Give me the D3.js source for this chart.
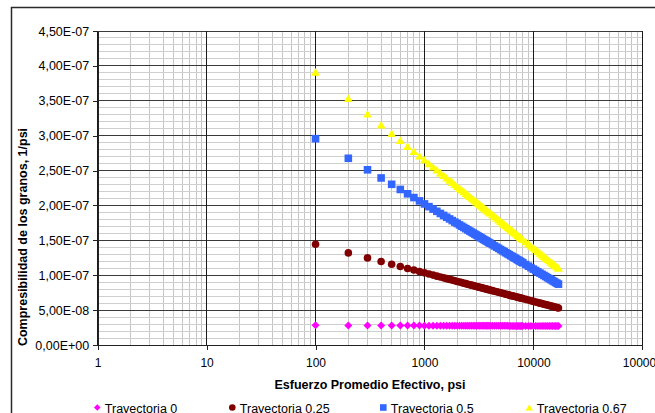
<!DOCTYPE html>
<html><head><meta charset="utf-8">
<script src="https://cdn.jsdelivr.net/npm/d3@7"></script>
<style>
body{margin:0;background:#fff}
svg{display:block}
text{font-family:"Liberation Sans",Arial,sans-serif;fill:#000}
</style></head>
<body><svg id="c" width="655" height="413"></svg>
<script>
// ---------- data ----------
const esfuerzo = [100,200,300,400,500,600,700,800,900,1000,1100,1200,1300,1400,1500,1600,1700,1800,1900,2000,
2100,2200,2300,2400,2500,2600,2700,2800,2900,3000,3100,3200,3300,3400,3500,3600,3700,3800,3900,4000,
4200,4400,4600,4800,5000,5200,5400,5600,5800,6000,6200,6400,6600,6800,7000,7200,7400,7600,7800,8000,
8500,9000,9500,10000,10500,11000,11500,12000,12500,13000,13500,14000,14500,15000,15500,16000,16500,17000];

const tray0 = [2.820e-8,2.806e-8,2.799e-8,2.793e-8,2.789e-8,2.785e-8,2.782e-8,2.779e-8,2.777e-8,2.775e-8,
2.773e-8,2.771e-8,2.770e-8,2.768e-8,2.767e-8,2.766e-8,2.765e-8,2.764e-8,2.762e-8,2.761e-8,
2.760e-8,2.760e-8,2.759e-8,2.758e-8,2.757e-8,2.756e-8,2.756e-8,2.755e-8,2.754e-8,2.754e-8,
2.753e-8,2.752e-8,2.752e-8,2.751e-8,2.751e-8,2.750e-8,2.749e-8,2.749e-8,2.748e-8,2.748e-8,
2.747e-8,2.746e-8,2.745e-8,2.744e-8,2.744e-8,2.743e-8,2.742e-8,2.741e-8,2.741e-8,2.740e-8,
2.739e-8,2.739e-8,2.738e-8,2.738e-8,2.737e-8,2.736e-8,2.736e-8,2.735e-8,2.735e-8,2.734e-8,
2.733e-8,2.732e-8,2.731e-8,2.730e-8,2.729e-8,2.728e-8,2.727e-8,2.726e-8,2.726e-8,2.725e-8,
2.724e-8,2.723e-8,2.723e-8,2.722e-8,2.721e-8,2.721e-8,2.720e-8,2.720e-8];

const tray025 = [1.443e-7,1.320e-7,1.248e-7,1.197e-7,1.157e-7,1.125e-7,1.097e-7,1.074e-7,1.053e-7,1.034e-7,
1.017e-7,1.002e-7,0.987e-7,0.974e-7,0.962e-7,0.951e-7,0.940e-7,0.930e-7,0.920e-7,0.911e-7,
0.902e-7,0.894e-7,0.886e-7,0.879e-7,0.871e-7,0.864e-7,0.858e-7,0.851e-7,0.845e-7,0.839e-7,
0.833e-7,0.827e-7,0.822e-7,0.817e-7,0.812e-7,0.807e-7,0.802e-7,0.797e-7,0.792e-7,0.788e-7,
0.779e-7,0.771e-7,0.763e-7,0.755e-7,0.748e-7,0.741e-7,0.734e-7,0.728e-7,0.722e-7,0.716e-7,
0.710e-7,0.704e-7,0.699e-7,0.694e-7,0.688e-7,0.683e-7,0.679e-7,0.674e-7,0.669e-7,0.665e-7,
0.654e-7,0.644e-7,0.634e-7,0.625e-7,0.616e-7,0.608e-7,0.600e-7,0.593e-7,0.585e-7,0.578e-7,
0.572e-7,0.565e-7,0.559e-7,0.553e-7,0.547e-7,0.542e-7,0.536e-7,0.531e-7];

const tray05 = [2.957e-7,2.676e-7,2.511e-7,2.394e-7,2.303e-7,2.229e-7,2.167e-7,2.113e-7,2.065e-7,2.022e-7,
1.983e-7,1.948e-7,1.916e-7,1.885e-7,1.857e-7,1.831e-7,1.807e-7,1.783e-7,1.761e-7,1.741e-7,
1.721e-7,1.702e-7,1.684e-7,1.667e-7,1.650e-7,1.634e-7,1.619e-7,1.604e-7,1.590e-7,1.576e-7,
1.563e-7,1.550e-7,1.537e-7,1.525e-7,1.513e-7,1.502e-7,1.491e-7,1.480e-7,1.469e-7,1.459e-7,
1.439e-7,1.420e-7,1.402e-7,1.385e-7,1.368e-7,1.352e-7,1.337e-7,1.322e-7,1.308e-7,1.294e-7,
1.281e-7,1.268e-7,1.256e-7,1.244e-7,1.232e-7,1.220e-7,1.209e-7,1.199e-7,1.188e-7,1.178e-7,
1.153e-7,1.130e-7,1.108e-7,1.087e-7,1.067e-7,1.048e-7,1.030e-7,1.013e-7,0.996e-7,0.981e-7,
0.965e-7,0.950e-7,0.936e-7,0.922e-7,0.909e-7,0.896e-7,0.884e-7,0.872e-7];

const tray067 = [3.912e-7,3.533e-7,3.311e-7,3.153e-7,3.031e-7,2.931e-7,2.847e-7,2.774e-7,2.710e-7,2.652e-7,
2.600e-7,2.552e-7,2.508e-7,2.468e-7,2.430e-7,2.395e-7,2.362e-7,2.330e-7,2.301e-7,2.273e-7,
2.246e-7,2.221e-7,2.196e-7,2.173e-7,2.151e-7,2.129e-7,2.108e-7,2.089e-7,2.069e-7,2.051e-7,
2.033e-7,2.016e-7,1.999e-7,1.982e-7,1.966e-7,1.951e-7,1.936e-7,1.922e-7,1.907e-7,1.893e-7,
1.867e-7,1.841e-7,1.817e-7,1.794e-7,1.771e-7,1.750e-7,1.729e-7,1.709e-7,1.690e-7,1.672e-7,
1.654e-7,1.636e-7,1.619e-7,1.603e-7,1.587e-7,1.572e-7,1.557e-7,1.542e-7,1.528e-7,1.514e-7,
1.481e-7,1.450e-7,1.420e-7,1.392e-7,1.365e-7,1.340e-7,1.316e-7,1.292e-7,1.270e-7,1.249e-7,
1.228e-7,1.208e-7,1.189e-7,1.170e-7,1.152e-7,1.135e-7,1.118e-7,1.102e-7];

const seriesNames = ["Trayectoria 0","Trayectoria 0.25","Trayectoria 0.5","Trayectoria 0.67"];
const xTickValues = [1,10,100,1000,10000,100000];
const yTickValues = [0,5e-8,1e-7,1.5e-7,2e-7,2.5e-7,3e-7,3.5e-7,4e-7,4.5e-7];
const xTitle = "Esfuerzo Promedio Efectivo, psi";
const yTitle = "Compresibilidad de los granos, 1/psi";

// ---------- chart ----------
const svg = d3.select("#c");
const pL = 97.7, pR = 642.3, pT = 31, pB = 345;
const x = d3.scaleLog().domain([1,100000]).range([pL,pR]);
const y = d3.scaleLinear().domain([0,4.5e-7]).range([pB,pT]);

svg.append("rect").attr("width",655).attr("height",413).attr("fill","#fff");
svg.append("rect").attr("x",11.5).attr("y",7.5).attr("width",700).attr("height",500)
  .attr("fill","#fff").attr("stroke","#2a2a2a").attr("stroke-width",1.5);

const grid = svg.append("g").attr("shape-rendering","crispEdges");
const minorX = [];
for (let k=0;k<5;k++) for (let m=2;m<10;m++) minorX.push(m*Math.pow(10,k));
grid.selectAll(".mx").data(minorX).join("line")
  .attr("x1",d=>x(d)).attr("x2",d=>x(d)).attr("y1",pT).attr("y2",pB)
  .attr("stroke","#c4c4c4").attr("stroke-width",1);
const minorY = d3.range(1,45).filter(i=>i%5!==0).map(i=>i*1e-8);
grid.selectAll(".my").data(minorY).join("line")
  .attr("x1",pL).attr("x2",pR).attr("y1",d=>y(d)).attr("y2",d=>y(d))
  .attr("stroke","#cfcfcf").attr("stroke-width",1);
grid.selectAll(".My").data(yTickValues).join("line")
  .attr("x1",pL).attr("x2",pR).attr("y1",d=>y(d)).attr("y2",d=>y(d))
  .attr("stroke","#3a3a3a").attr("stroke-width",1);
grid.selectAll(".Mx").data(xTickValues).join("line")
  .attr("x1",d=>x(d)).attr("x2",d=>x(d)).attr("y1",pT).attr("y2",pB)
  .attr("stroke","#1a1a1a").attr("stroke-width",1);

function fmtSci(v){
  let s = v.toExponential(2);
  let [m,e] = s.split("e");
  let sign = e[0]==="-" ? "-" : "+";
  let num = e.replace(/[+-]/,"");
  if (num.length<2) num = "0"+num;
  return m.replace(".",",")+"E"+sign+num;
}
const yAxis = svg.append("g").attr("transform",`translate(${pL},0)`)
  .call(d3.axisLeft(y).tickValues(yTickValues).tickFormat(fmtSci).tickSize(5).tickSizeOuter(0));
yAxis.selectAll("text").attr("x",-8.5).attr("font-size","12.5px");
const xAxis = svg.append("g").attr("transform",`translate(0,${pB})`)
  .call(d3.axisBottom(x).tickValues(xTickValues).tickFormat(d3.format("d")).tickSize(5).tickSizeOuter(0));
xAxis.selectAll("text").attr("y",22).attr("dy",0).attr("font-size","12px");
svg.selectAll(".domain, .tick line").attr("stroke","#222").attr("shape-rendering","crispEdges");

svg.append("text").attr("x",370).attr("y",389).attr("text-anchor","middle")
  .attr("font-weight","bold").attr("font-size","12.5px").text(xTitle);
svg.append("text").attr("transform","translate(26.5,237) rotate(-90)").attr("text-anchor","middle")
  .attr("font-weight","bold").attr("font-size","12.5px").text(yTitle);

const shapes = {
  diamond: s => `M0,${-s}L${s},0L0,${s}L${-s},0Z`,
  circle: s => `M${-s},0A${s},${s} 0 1,0 ${s},0A${s},${s} 0 1,0 ${-s},0Z`,
  square: s => `M${-s},${-s}H${s}V${s}H${-s}Z`,
  triangle: s => `M0,${-s}L${s*1.1},${s*0.9}L${-s*1.1},${s*0.9}Z`
};
const series = [
  {name:seriesNames[0], values:tray0,  color:"#ff00ff", shape:"diamond",  size:4},
  {name:seriesNames[1], values:tray025,color:"#800000", shape:"circle",   size:3.8},
  {name:seriesNames[2], values:tray05, color:"#3366ff", shape:"square",   size:3.8},
  {name:seriesNames[3], values:tray067,color:"#ffff00", shape:"triangle", size:4}
];
const plot = svg.append("g");
series.forEach(s=>{
  plot.append("g").selectAll("path").data(esfuerzo.map((v,i)=>({x:v,y:s.values[i]}))).join("path")
    .attr("transform",d=>`translate(${x(d.x)},${y(d.y)})`)
    .attr("d",shapes[s.shape](s.size)).attr("fill",s.color);
});

const legX = [97.3, 232.3, 383.3, 529.3];
const leg = svg.append("g");
series.forEach((s,i)=>{
  leg.append("path").attr("transform",`translate(${legX[i]},407.5)`)
    .attr("d",shapes[s.shape](3.3)).attr("fill",s.color);
  leg.append("text").attr("x",legX[i]+7.5).attr("y",412.5).attr("font-size","12.5px").text(s.name);
});
</script></body></html>
